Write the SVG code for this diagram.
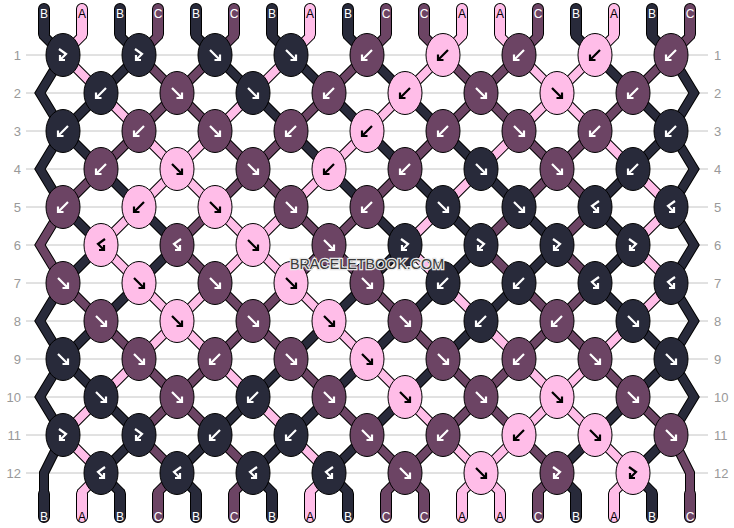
<svg xmlns="http://www.w3.org/2000/svg" xmlns:xlink="http://www.w3.org/1999/xlink" width="734" height="528" viewBox="0 0 734 528">
<style>
.grid line{stroke:#c4c4c4;stroke-width:1}
.rn{font-family:"Liberation Sans",Arial,sans-serif;font-size:13px;fill:#999}
.sl{fill:none;stroke:#000;stroke-width:10;stroke-linecap:round}
.el{fill:none;stroke:#000;stroke-width:12;stroke-linecap:round}
.cA,.cB,.cC{fill:none;stroke-width:8;stroke-linecap:round}
.dA,.dB,.dC{fill:none;stroke-width:10;stroke-linecap:round}
.cA,.dA{stroke:#ffbde8}
.cB,.dB{stroke:#282a3a}
.cC,.dC{stroke:#6c4464}
ellipse{stroke:#000;stroke-width:1}
ellipse.A{fill:#ffbde8}
ellipse.B{fill:#282a3a}
ellipse.C{fill:#6c4464}
.w{fill:none;stroke:#fff;stroke-width:2.2}
.k{fill:none;stroke:#000;stroke-width:2.2}
.lb{font-family:"Liberation Sans",Arial,sans-serif;font-size:12px;text-anchor:middle}
.lw{fill:#fff}
.lk{fill:#000}
.wm{font-family:"Liberation Sans",Arial,sans-serif;font-size:14.3px;text-anchor:middle;fill:#3a3a3a;stroke:#e8e8e8;stroke-width:2.5;paint-order:stroke}
</style>
<defs>
<path id="f" d="M-5,-5 L5,5 M5,-0.5 L5,5 L-0.5,5"/>
<path id="b" d="M5,-5 L-5,5 M-5,-0.5 L-5,5 L0.5,5"/>
<path id="fb" d="M-4,-6 L3,-1 L-3,5 M-3,0 L-3,5 L2,5"/>
<path id="bf" d="M4,-6 L-3,-1 L3,5 M3,0 L3,5 L-2,5"/>
<path id="s0" d="M44,9 L44,36 L63,55 L40,93 L63,131 L101,169 L139,207 L177,245 L139,283 L101,321 L63,359 L40,397 L63,435 L44,473 L44,492 L44,517"/>
<path id="s1" d="M82,9 L82,36 L63,55 L101,93 L139,131 L177,169 L215,207 L253,245 L291,283 L329,321 L367,359 L405,397 L443,435 L481,473 L500,492 L500,517"/>
<path id="s2" d="M120,9 L120,36 L139,55 L101,93 L63,131 L40,169 L63,207 L101,245 L63,283 L40,321 L63,359 L101,397 L139,435 L101,473 L120,492 L120,517"/>
<path id="s3" d="M158,9 L158,36 L139,55 L177,93 L215,131 L253,169 L291,207 L329,245 L367,283 L405,321 L443,359 L481,397 L519,435 L557,473 L538,492 L538,517"/>
<path id="s4" d="M196,9 L196,36 L215,55 L253,93 L291,131 L329,169 L367,207 L405,245 L367,283 L329,321 L291,359 L253,397 L215,435 L177,473 L196,492 L196,517"/>
<path id="s5" d="M234,9 L234,36 L215,55 L177,93 L139,131 L101,169 L63,207 L40,245 L63,283 L101,321 L139,359 L177,397 L215,435 L253,473 L234,492 L234,517"/>
<path id="s6" d="M272,9 L272,36 L291,55 L329,93 L367,131 L405,169 L443,207 L481,245 L443,283 L405,321 L367,359 L329,397 L291,435 L253,473 L272,492 L272,517"/>
<path id="s7" d="M310,9 L310,36 L291,55 L253,93 L215,131 L177,169 L139,207 L101,245 L139,283 L177,321 L215,359 L253,397 L291,435 L329,473 L310,492 L310,517"/>
<path id="s8" d="M348,9 L348,36 L367,55 L405,93 L443,131 L481,169 L519,207 L557,245 L519,283 L481,321 L443,359 L405,397 L367,435 L329,473 L348,492 L348,517"/>
<path id="s9" d="M386,9 L386,36 L367,55 L329,93 L291,131 L253,169 L215,207 L177,245 L215,283 L253,321 L291,359 L329,397 L367,435 L405,473 L424,492 L424,517"/>
<path id="s10" d="M424,9 L424,36 L443,55 L481,93 L519,131 L557,169 L595,207 L557,245 L595,283 L557,321 L519,359 L481,397 L443,435 L405,473 L386,492 L386,517"/>
<path id="s11" d="M462,9 L462,36 L443,55 L405,93 L367,131 L329,169 L291,207 L253,245 L215,283 L177,321 L139,359 L101,397 L63,435 L101,473 L82,492 L82,517"/>
<path id="s12" d="M500,9 L500,36 L519,55 L557,93 L595,131 L633,169 L671,207 L633,245 L671,283 L633,321 L595,359 L557,397 L519,435 L481,473 L462,492 L462,517"/>
<path id="s13" d="M538,9 L538,36 L519,55 L481,93 L443,131 L405,169 L367,207 L329,245 L291,283 L253,321 L215,359 L177,397 L139,435 L177,473 L158,492 L158,517"/>
<path id="s14" d="M576,9 L576,36 L595,55 L633,93 L671,131 L694,169 L671,207 L694,245 L671,283 L694,321 L671,359 L633,397 L595,435 L557,473 L576,492 L576,517"/>
<path id="s15" d="M614,9 L614,36 L595,55 L557,93 L519,131 L481,169 L443,207 L405,245 L443,283 L481,321 L519,359 L557,397 L595,435 L633,473 L614,492 L614,517"/>
<path id="s16" d="M652,9 L652,36 L671,55 L694,93 L671,131 L633,169 L595,207 L633,245 L595,283 L633,321 L671,359 L694,397 L671,435 L633,473 L652,492 L652,517"/>
<path id="s17" d="M690,9 L690,36 L671,55 L633,93 L595,131 L557,169 L519,207 L481,245 L519,283 L557,321 L595,359 L633,397 L671,435 L690,473 L690,492 L690,517"/>
<path id="e0" d="M44,9 V34 M44,494 V517"/>
<path id="e1" d="M82,9 V34 M500,494 V517"/>
<path id="e2" d="M120,9 V34 M120,494 V517"/>
<path id="e3" d="M158,9 V34 M538,494 V517"/>
<path id="e4" d="M196,9 V34 M196,494 V517"/>
<path id="e5" d="M234,9 V34 M234,494 V517"/>
<path id="e6" d="M272,9 V34 M272,494 V517"/>
<path id="e7" d="M310,9 V34 M310,494 V517"/>
<path id="e8" d="M348,9 V34 M348,494 V517"/>
<path id="e9" d="M386,9 V34 M424,494 V517"/>
<path id="e10" d="M424,9 V34 M386,494 V517"/>
<path id="e11" d="M462,9 V34 M82,494 V517"/>
<path id="e12" d="M500,9 V34 M462,494 V517"/>
<path id="e13" d="M538,9 V34 M158,494 V517"/>
<path id="e14" d="M576,9 V34 M576,494 V517"/>
<path id="e15" d="M614,9 V34 M614,494 V517"/>
<path id="e16" d="M652,9 V34 M652,494 V517"/>
<path id="e17" d="M690,9 V34 M690,494 V517"/>
</defs>
<rect width="734" height="528" fill="#fff"/>
<g id="grid" class="grid">
<line x1="26" y1="55" x2="708" y2="55"/><line x1="26" y1="93" x2="708" y2="93"/><line x1="26" y1="131" x2="708" y2="131"/><line x1="26" y1="169" x2="708" y2="169"/><line x1="26" y1="207" x2="708" y2="207"/><line x1="26" y1="245" x2="708" y2="245"/><line x1="26" y1="283" x2="708" y2="283"/><line x1="26" y1="321" x2="708" y2="321"/><line x1="26" y1="359" x2="708" y2="359"/><line x1="26" y1="397" x2="708" y2="397"/><line x1="26" y1="435" x2="708" y2="435"/><line x1="26" y1="473" x2="708" y2="473"/>
</g>
<g id="row-numbers" class="rn">
<g text-anchor="end">
<text x="21" y="59.5">1</text><text x="21" y="97.5">2</text><text x="21" y="135.5">3</text><text x="21" y="173.5">4</text><text x="21" y="211.5">5</text><text x="21" y="249.5">6</text><text x="21" y="287.5">7</text><text x="21" y="325.5">8</text><text x="21" y="363.5">9</text><text x="21" y="401.5">10</text><text x="21" y="439.5">11</text><text x="21" y="477.5">12</text>
</g>
<g text-anchor="start">
<text x="714" y="59.5">1</text><text x="714" y="97.5">2</text><text x="714" y="135.5">3</text><text x="714" y="173.5">4</text><text x="714" y="211.5">5</text><text x="714" y="249.5">6</text><text x="714" y="287.5">7</text><text x="714" y="325.5">8</text><text x="714" y="363.5">9</text><text x="714" y="401.5">10</text><text x="714" y="439.5">11</text><text x="714" y="477.5">12</text>
</g>
</g>
<g id="connectors">
<g id="outlines">
<use href="#s0" class="sl"/><use href="#s1" class="sl"/><use href="#s2" class="sl"/><use href="#s3" class="sl"/><use href="#s4" class="sl"/><use href="#s5" class="sl"/><use href="#s6" class="sl"/><use href="#s7" class="sl"/><use href="#s8" class="sl"/><use href="#s9" class="sl"/><use href="#s10" class="sl"/><use href="#s11" class="sl"/><use href="#s12" class="sl"/><use href="#s13" class="sl"/><use href="#s14" class="sl"/><use href="#s15" class="sl"/><use href="#s16" class="sl"/><use href="#s17" class="sl"/>
<use href="#e0" class="el"/><use href="#e1" class="el"/><use href="#e2" class="el"/><use href="#e3" class="el"/><use href="#e4" class="el"/><use href="#e5" class="el"/><use href="#e6" class="el"/><use href="#e7" class="el"/><use href="#e8" class="el"/><use href="#e9" class="el"/><use href="#e10" class="el"/><use href="#e11" class="el"/><use href="#e12" class="el"/><use href="#e13" class="el"/><use href="#e14" class="el"/><use href="#e15" class="el"/><use href="#e16" class="el"/><use href="#e17" class="el"/>
</g>
<g id="strings">
<use href="#s0" class="cB"/><use href="#s1" class="cA"/><use href="#s2" class="cB"/><use href="#s3" class="cC"/><use href="#s4" class="cB"/><use href="#s5" class="cC"/><use href="#s6" class="cB"/><use href="#s7" class="cA"/><use href="#s8" class="cB"/><use href="#s9" class="cC"/><use href="#s10" class="cC"/><use href="#s11" class="cA"/><use href="#s12" class="cA"/><use href="#s13" class="cC"/><use href="#s14" class="cB"/><use href="#s15" class="cA"/><use href="#s16" class="cB"/><use href="#s17" class="cC"/>
<use href="#e0" class="dB"/><use href="#e1" class="dA"/><use href="#e2" class="dB"/><use href="#e3" class="dC"/><use href="#e4" class="dB"/><use href="#e5" class="dC"/><use href="#e6" class="dB"/><use href="#e7" class="dA"/><use href="#e8" class="dB"/><use href="#e9" class="dC"/><use href="#e10" class="dC"/><use href="#e11" class="dA"/><use href="#e12" class="dA"/><use href="#e13" class="dC"/><use href="#e14" class="dB"/><use href="#e15" class="dA"/><use href="#e16" class="dB"/><use href="#e17" class="dC"/>
</g>
</g>
<g id="string-labels" class="lb">
<text x="44" y="18" class="lw">B</text><text x="82" y="18" class="lk">A</text><text x="120" y="18" class="lw">B</text><text x="158" y="18" class="lw">C</text><text x="196" y="18" class="lw">B</text><text x="234" y="18" class="lw">C</text><text x="272" y="18" class="lw">B</text><text x="310" y="18" class="lk">A</text><text x="348" y="18" class="lw">B</text><text x="386" y="18" class="lw">C</text><text x="424" y="18" class="lw">C</text><text x="462" y="18" class="lk">A</text><text x="500" y="18" class="lk">A</text><text x="538" y="18" class="lw">C</text><text x="576" y="18" class="lw">B</text><text x="614" y="18" class="lk">A</text><text x="652" y="18" class="lw">B</text><text x="690" y="18" class="lw">C</text>
<text x="44" y="521" class="lw">B</text><text x="82" y="521" class="lk">A</text><text x="120" y="521" class="lw">B</text><text x="158" y="521" class="lw">C</text><text x="196" y="521" class="lw">B</text><text x="234" y="521" class="lw">C</text><text x="272" y="521" class="lw">B</text><text x="310" y="521" class="lk">A</text><text x="348" y="521" class="lw">B</text><text x="386" y="521" class="lw">C</text><text x="424" y="521" class="lw">C</text><text x="462" y="521" class="lk">A</text><text x="500" y="521" class="lk">A</text><text x="538" y="521" class="lw">C</text><text x="576" y="521" class="lw">B</text><text x="614" y="521" class="lk">A</text><text x="652" y="521" class="lw">B</text><text x="690" y="521" class="lw">C</text>
</g>
<g id="knots">
<g id="k1-1"><ellipse cx="63" cy="55" rx="17" ry="21.5" class="B"/><use href="#fb" x="63" y="55" class="w"/></g>
<g id="k1-2"><ellipse cx="139" cy="55" rx="17" ry="21.5" class="B"/><use href="#fb" x="139" y="55" class="w"/></g>
<g id="k1-3"><ellipse cx="215" cy="55" rx="17" ry="21.5" class="B"/><use href="#f" x="215" y="55" class="w"/></g>
<g id="k1-4"><ellipse cx="291" cy="55" rx="17" ry="21.5" class="B"/><use href="#f" x="291" y="55" class="w"/></g>
<g id="k1-5"><ellipse cx="367" cy="55" rx="17" ry="21.5" class="C"/><use href="#b" x="367" y="55" class="w"/></g>
<g id="k1-6"><ellipse cx="443" cy="55" rx="17" ry="21.5" class="A"/><use href="#b" x="443" y="55" class="k"/></g>
<g id="k1-7"><ellipse cx="519" cy="55" rx="17" ry="21.5" class="C"/><use href="#b" x="519" y="55" class="w"/></g>
<g id="k1-8"><ellipse cx="595" cy="55" rx="17" ry="21.5" class="A"/><use href="#b" x="595" y="55" class="k"/></g>
<g id="k1-9"><ellipse cx="671" cy="55" rx="17" ry="21.5" class="C"/><use href="#b" x="671" y="55" class="w"/></g>

<g id="k2-1"><ellipse cx="101" cy="93" rx="17" ry="21.5" class="B"/><use href="#b" x="101" y="93" class="w"/></g>
<g id="k2-2"><ellipse cx="177" cy="93" rx="17" ry="21.5" class="C"/><use href="#f" x="177" y="93" class="w"/></g>
<g id="k2-3"><ellipse cx="253" cy="93" rx="17" ry="21.5" class="B"/><use href="#f" x="253" y="93" class="w"/></g>
<g id="k2-4"><ellipse cx="329" cy="93" rx="17" ry="21.5" class="C"/><use href="#b" x="329" y="93" class="w"/></g>
<g id="k2-5"><ellipse cx="405" cy="93" rx="17" ry="21.5" class="A"/><use href="#b" x="405" y="93" class="k"/></g>
<g id="k2-6"><ellipse cx="481" cy="93" rx="17" ry="21.5" class="C"/><use href="#f" x="481" y="93" class="w"/></g>
<g id="k2-7"><ellipse cx="557" cy="93" rx="17" ry="21.5" class="A"/><use href="#f" x="557" y="93" class="k"/></g>
<g id="k2-8"><ellipse cx="633" cy="93" rx="17" ry="21.5" class="C"/><use href="#b" x="633" y="93" class="w"/></g>

<g id="k3-1"><ellipse cx="63" cy="131" rx="17" ry="21.5" class="B"/><use href="#b" x="63" y="131" class="w"/></g>
<g id="k3-2"><ellipse cx="139" cy="131" rx="17" ry="21.5" class="C"/><use href="#b" x="139" y="131" class="w"/></g>
<g id="k3-3"><ellipse cx="215" cy="131" rx="17" ry="21.5" class="C"/><use href="#f" x="215" y="131" class="w"/></g>
<g id="k3-4"><ellipse cx="291" cy="131" rx="17" ry="21.5" class="C"/><use href="#b" x="291" y="131" class="w"/></g>
<g id="k3-5"><ellipse cx="367" cy="131" rx="17" ry="21.5" class="A"/><use href="#b" x="367" y="131" class="k"/></g>
<g id="k3-6"><ellipse cx="443" cy="131" rx="17" ry="21.5" class="C"/><use href="#b" x="443" y="131" class="w"/></g>
<g id="k3-7"><ellipse cx="519" cy="131" rx="17" ry="21.5" class="C"/><use href="#f" x="519" y="131" class="w"/></g>
<g id="k3-8"><ellipse cx="595" cy="131" rx="17" ry="21.5" class="C"/><use href="#b" x="595" y="131" class="w"/></g>
<g id="k3-9"><ellipse cx="671" cy="131" rx="17" ry="21.5" class="B"/><use href="#b" x="671" y="131" class="w"/></g>

<g id="k4-1"><ellipse cx="101" cy="169" rx="17" ry="21.5" class="C"/><use href="#b" x="101" y="169" class="w"/></g>
<g id="k4-2"><ellipse cx="177" cy="169" rx="17" ry="21.5" class="A"/><use href="#f" x="177" y="169" class="k"/></g>
<g id="k4-3"><ellipse cx="253" cy="169" rx="17" ry="21.5" class="C"/><use href="#f" x="253" y="169" class="w"/></g>
<g id="k4-4"><ellipse cx="329" cy="169" rx="17" ry="21.5" class="A"/><use href="#b" x="329" y="169" class="k"/></g>
<g id="k4-5"><ellipse cx="405" cy="169" rx="17" ry="21.5" class="C"/><use href="#b" x="405" y="169" class="w"/></g>
<g id="k4-6"><ellipse cx="481" cy="169" rx="17" ry="21.5" class="B"/><use href="#f" x="481" y="169" class="w"/></g>
<g id="k4-7"><ellipse cx="557" cy="169" rx="17" ry="21.5" class="C"/><use href="#f" x="557" y="169" class="w"/></g>
<g id="k4-8"><ellipse cx="633" cy="169" rx="17" ry="21.5" class="B"/><use href="#b" x="633" y="169" class="w"/></g>

<g id="k5-1"><ellipse cx="63" cy="207" rx="17" ry="21.5" class="C"/><use href="#b" x="63" y="207" class="w"/></g>
<g id="k5-2"><ellipse cx="139" cy="207" rx="17" ry="21.5" class="A"/><use href="#b" x="139" y="207" class="k"/></g>
<g id="k5-3"><ellipse cx="215" cy="207" rx="17" ry="21.5" class="A"/><use href="#f" x="215" y="207" class="k"/></g>
<g id="k5-4"><ellipse cx="291" cy="207" rx="17" ry="21.5" class="C"/><use href="#f" x="291" y="207" class="w"/></g>
<g id="k5-5"><ellipse cx="367" cy="207" rx="17" ry="21.5" class="C"/><use href="#b" x="367" y="207" class="w"/></g>
<g id="k5-6"><ellipse cx="443" cy="207" rx="17" ry="21.5" class="B"/><use href="#f" x="443" y="207" class="w"/></g>
<g id="k5-7"><ellipse cx="519" cy="207" rx="17" ry="21.5" class="B"/><use href="#f" x="519" y="207" class="w"/></g>
<g id="k5-8"><ellipse cx="595" cy="207" rx="17" ry="21.5" class="B"/><use href="#bf" x="595" y="207" class="w"/></g>
<g id="k5-9"><ellipse cx="671" cy="207" rx="17" ry="21.5" class="B"/><use href="#bf" x="671" y="207" class="w"/></g>

<g id="k6-1"><ellipse cx="101" cy="245" rx="17" ry="21.5" class="A"/><use href="#bf" x="101" y="245" class="k"/></g>
<g id="k6-2"><ellipse cx="177" cy="245" rx="17" ry="21.5" class="C"/><use href="#bf" x="177" y="245" class="w"/></g>
<g id="k6-3"><ellipse cx="253" cy="245" rx="17" ry="21.5" class="A"/><use href="#f" x="253" y="245" class="k"/></g>
<g id="k6-4"><ellipse cx="329" cy="245" rx="17" ry="21.5" class="C"/><use href="#f" x="329" y="245" class="w"/></g>
<g id="k6-5"><ellipse cx="405" cy="245" rx="17" ry="21.5" class="B"/><use href="#fb" x="405" y="245" class="w"/></g>
<g id="k6-6"><ellipse cx="481" cy="245" rx="17" ry="21.5" class="B"/><use href="#fb" x="481" y="245" class="w"/></g>
<g id="k6-7"><ellipse cx="557" cy="245" rx="17" ry="21.5" class="B"/><use href="#fb" x="557" y="245" class="w"/></g>
<g id="k6-8"><ellipse cx="633" cy="245" rx="17" ry="21.5" class="B"/><use href="#fb" x="633" y="245" class="w"/></g>

<g id="k7-1"><ellipse cx="63" cy="283" rx="17" ry="21.5" class="C"/><use href="#f" x="63" y="283" class="w"/></g>
<g id="k7-2"><ellipse cx="139" cy="283" rx="17" ry="21.5" class="A"/><use href="#f" x="139" y="283" class="k"/></g>
<g id="k7-3"><ellipse cx="215" cy="283" rx="17" ry="21.5" class="C"/><use href="#f" x="215" y="283" class="w"/></g>
<g id="k7-4"><ellipse cx="291" cy="283" rx="17" ry="21.5" class="A"/><use href="#f" x="291" y="283" class="k"/></g>
<g id="k7-5"><ellipse cx="367" cy="283" rx="17" ry="21.5" class="C"/><use href="#f" x="367" y="283" class="w"/></g>
<g id="k7-6"><ellipse cx="443" cy="283" rx="17" ry="21.5" class="B"/><use href="#b" x="443" y="283" class="w"/></g>
<g id="k7-7"><ellipse cx="519" cy="283" rx="17" ry="21.5" class="B"/><use href="#b" x="519" y="283" class="w"/></g>
<g id="k7-8"><ellipse cx="595" cy="283" rx="17" ry="21.5" class="B"/><use href="#bf" x="595" y="283" class="w"/></g>
<g id="k7-9"><ellipse cx="671" cy="283" rx="17" ry="21.5" class="B"/><use href="#bf" x="671" y="283" class="w"/></g>

<g id="k8-1"><ellipse cx="101" cy="321" rx="17" ry="21.5" class="C"/><use href="#f" x="101" y="321" class="w"/></g>
<g id="k8-2"><ellipse cx="177" cy="321" rx="17" ry="21.5" class="A"/><use href="#f" x="177" y="321" class="k"/></g>
<g id="k8-3"><ellipse cx="253" cy="321" rx="17" ry="21.5" class="C"/><use href="#f" x="253" y="321" class="w"/></g>
<g id="k8-4"><ellipse cx="329" cy="321" rx="17" ry="21.5" class="A"/><use href="#f" x="329" y="321" class="k"/></g>
<g id="k8-5"><ellipse cx="405" cy="321" rx="17" ry="21.5" class="C"/><use href="#f" x="405" y="321" class="w"/></g>
<g id="k8-6"><ellipse cx="481" cy="321" rx="17" ry="21.5" class="B"/><use href="#b" x="481" y="321" class="w"/></g>
<g id="k8-7"><ellipse cx="557" cy="321" rx="17" ry="21.5" class="C"/><use href="#b" x="557" y="321" class="w"/></g>
<g id="k8-8"><ellipse cx="633" cy="321" rx="17" ry="21.5" class="B"/><use href="#f" x="633" y="321" class="w"/></g>

<g id="k9-1"><ellipse cx="63" cy="359" rx="17" ry="21.5" class="B"/><use href="#f" x="63" y="359" class="w"/></g>
<g id="k9-2"><ellipse cx="139" cy="359" rx="17" ry="21.5" class="C"/><use href="#f" x="139" y="359" class="w"/></g>
<g id="k9-3"><ellipse cx="215" cy="359" rx="17" ry="21.5" class="C"/><use href="#b" x="215" y="359" class="w"/></g>
<g id="k9-4"><ellipse cx="291" cy="359" rx="17" ry="21.5" class="C"/><use href="#f" x="291" y="359" class="w"/></g>
<g id="k9-5"><ellipse cx="367" cy="359" rx="17" ry="21.5" class="A"/><use href="#f" x="367" y="359" class="k"/></g>
<g id="k9-6"><ellipse cx="443" cy="359" rx="17" ry="21.5" class="C"/><use href="#f" x="443" y="359" class="w"/></g>
<g id="k9-7"><ellipse cx="519" cy="359" rx="17" ry="21.5" class="C"/><use href="#b" x="519" y="359" class="w"/></g>
<g id="k9-8"><ellipse cx="595" cy="359" rx="17" ry="21.5" class="C"/><use href="#f" x="595" y="359" class="w"/></g>
<g id="k9-9"><ellipse cx="671" cy="359" rx="17" ry="21.5" class="B"/><use href="#f" x="671" y="359" class="w"/></g>

<g id="k10-1"><ellipse cx="101" cy="397" rx="17" ry="21.5" class="B"/><use href="#f" x="101" y="397" class="w"/></g>
<g id="k10-2"><ellipse cx="177" cy="397" rx="17" ry="21.5" class="C"/><use href="#f" x="177" y="397" class="w"/></g>
<g id="k10-3"><ellipse cx="253" cy="397" rx="17" ry="21.5" class="B"/><use href="#b" x="253" y="397" class="w"/></g>
<g id="k10-4"><ellipse cx="329" cy="397" rx="17" ry="21.5" class="C"/><use href="#f" x="329" y="397" class="w"/></g>
<g id="k10-5"><ellipse cx="405" cy="397" rx="17" ry="21.5" class="A"/><use href="#f" x="405" y="397" class="k"/></g>
<g id="k10-6"><ellipse cx="481" cy="397" rx="17" ry="21.5" class="C"/><use href="#f" x="481" y="397" class="w"/></g>
<g id="k10-7"><ellipse cx="557" cy="397" rx="17" ry="21.5" class="A"/><use href="#f" x="557" y="397" class="k"/></g>
<g id="k10-8"><ellipse cx="633" cy="397" rx="17" ry="21.5" class="C"/><use href="#f" x="633" y="397" class="w"/></g>

<g id="k11-1"><ellipse cx="63" cy="435" rx="17" ry="21.5" class="B"/><use href="#fb" x="63" y="435" class="w"/></g>
<g id="k11-2"><ellipse cx="139" cy="435" rx="17" ry="21.5" class="B"/><use href="#fb" x="139" y="435" class="w"/></g>
<g id="k11-3"><ellipse cx="215" cy="435" rx="17" ry="21.5" class="B"/><use href="#b" x="215" y="435" class="w"/></g>
<g id="k11-4"><ellipse cx="291" cy="435" rx="17" ry="21.5" class="B"/><use href="#b" x="291" y="435" class="w"/></g>
<g id="k11-5"><ellipse cx="367" cy="435" rx="17" ry="21.5" class="C"/><use href="#f" x="367" y="435" class="w"/></g>
<g id="k11-6"><ellipse cx="443" cy="435" rx="17" ry="21.5" class="C"/><use href="#b" x="443" y="435" class="w"/></g>
<g id="k11-7"><ellipse cx="519" cy="435" rx="17" ry="21.5" class="A"/><use href="#b" x="519" y="435" class="k"/></g>
<g id="k11-8"><ellipse cx="595" cy="435" rx="17" ry="21.5" class="A"/><use href="#f" x="595" y="435" class="k"/></g>
<g id="k11-9"><ellipse cx="671" cy="435" rx="17" ry="21.5" class="C"/><use href="#f" x="671" y="435" class="w"/></g>

<g id="k12-1"><ellipse cx="101" cy="473" rx="17" ry="21.5" class="B"/><use href="#bf" x="101" y="473" class="w"/></g>
<g id="k12-2"><ellipse cx="177" cy="473" rx="17" ry="21.5" class="B"/><use href="#bf" x="177" y="473" class="w"/></g>
<g id="k12-3"><ellipse cx="253" cy="473" rx="17" ry="21.5" class="B"/><use href="#bf" x="253" y="473" class="w"/></g>
<g id="k12-4"><ellipse cx="329" cy="473" rx="17" ry="21.5" class="B"/><use href="#bf" x="329" y="473" class="w"/></g>
<g id="k12-5"><ellipse cx="405" cy="473" rx="17" ry="21.5" class="C"/><use href="#f" x="405" y="473" class="w"/></g>
<g id="k12-6"><ellipse cx="481" cy="473" rx="17" ry="21.5" class="A"/><use href="#f" x="481" y="473" class="k"/></g>
<g id="k12-7"><ellipse cx="557" cy="473" rx="17" ry="21.5" class="C"/><use href="#fb" x="557" y="473" class="w"/></g>
<g id="k12-8"><ellipse cx="633" cy="473" rx="17" ry="21.5" class="A"/><use href="#fb" x="633" y="473" class="k"/></g>
</g>
<text id="watermark" x="367" y="269" class="wm">BRACELETBOOK.COM</text>
</svg>
